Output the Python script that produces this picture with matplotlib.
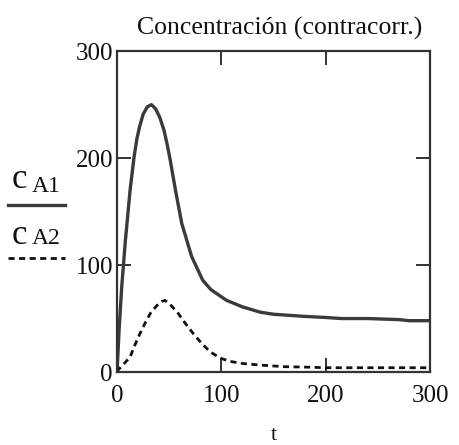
import matplotlib

matplotlib.use("Agg")
import matplotlib.pyplot as plt  # noqa: E402
from matplotlib.lines import Line2D  # noqa: E402

# values (Mathcad-style plot)
T_A1 = [0, 2, 4.5, 8, 12.5, 16.3, 19, 21.5, 25, 29, 33, 37, 41, 45, 48, 51, 56, 62,
        71.5, 82, 90, 105, 120, 137, 150, 165, 180, 200, 215, 240, 270, 280, 300]
C_A1 = [0, 40, 80, 123, 170, 201, 218, 229, 241, 248, 250, 246, 238, 226, 213, 198,
        170, 139, 108, 86, 77, 67, 61, 56, 54, 53, 52, 51, 50, 50, 49, 48, 48]

T_A2 = [0, 1, 6, 12.5, 17, 22, 27, 32, 38, 43, 46, 52, 58.5, 65, 73, 80, 89, 99,
        108, 120, 137, 160, 185, 200, 230, 260, 300]
C_A2 = [0, 2, 7, 14, 25, 36, 46, 55, 62, 66, 67, 62, 55, 46, 36, 28, 19, 13,
        10, 8, 6.5, 5, 4.5, 4, 4, 4, 4]

X_TICKS = [0, 100, 200, 300]
Y_TICKS = [0, 100, 200, 300]
TITLE = "Concentración (contracorr.)"

plt.rcParams["font.family"] = ["Liberation Serif", "DejaVu Serif"]

fig = plt.figure(figsize=(4.59, 4.45), dpi=100)
ax = fig.add_axes([0.255, 0.164, 0.682, 0.721])

ax.plot(T_A1, C_A1, color="#3a3a3a", linewidth=2.4, solid_joinstyle="round")
ax.plot(T_A2, C_A2, color="#111111", linewidth=2.0, linestyle=(0, (2.2, 1.6)))

ax.set_xlim(0, 300)
ax.set_ylim(0, 300)
ax.set_xticks(X_TICKS)
ax.set_yticks(Y_TICKS)
for s in ax.spines.values():
    s.set_color("#333333")
    s.set_linewidth(1.6)
ax.tick_params(direction="in", length=10, width=1.4, colors="#333333",
               top=True, right=True, labelsize=18, labelcolor="#111111", pad=3)
ax.tick_params(axis="x", pad=9)

ax.set_xlabel("t", fontsize=16, color="#111111", labelpad=14)
ax.set_title(TITLE, fontsize=18.5, color="#111111", pad=12, x=0.52)

# left-hand legend, Mathcad style
fig.text(0.026, 0.578, "c", fontsize=25, color="#111111")
fig.text(0.070, 0.568, "A1", fontsize=17, color="#111111")
fig.add_artist(Line2D([0.018, 0.142], [0.539, 0.539], color="#3a3a3a", linewidth=2.4))
fig.text(0.026, 0.452, "c", fontsize=25, color="#111111")
fig.text(0.070, 0.451, "A2", fontsize=17, color="#111111")
fig.add_artist(Line2D([0.018, 0.142], [0.420, 0.420], color="#111111", linewidth=2.0,
                      linestyle=(0, (2.2, 1.6))))

fig.savefig("out.png", facecolor="white")
